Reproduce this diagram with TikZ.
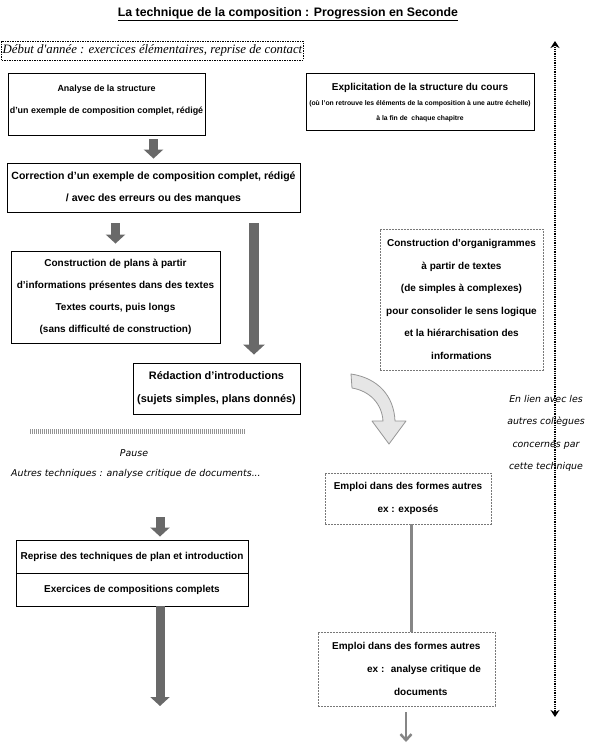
\documentclass[tikz,border=0pt]{standalone}
\usepackage{fontspec}
\setmainfont{Liberation Sans}
\newfontfamily\serifit{Liberation Serif}
\newfontfamily\verd{DejaVu Sans}
\usetikzlibrary{arrows.meta}
\definecolor{arrgray}{RGB}{105,105,105}
\definecolor{dgray}{RGB}{120,120,120}
\definecolor{lgfill}{RGB}{230,230,230}
\definecolor{lgline}{RGB}{150,150,150}
\begin{document}
\begin{tikzpicture}[x=1pt,y=-1pt,
  box/.style={draw=black, line width=0.9pt, align=center, inner sep=1pt,
    font=\fontsize{10}{22}\selectfont\bfseries},
  dbox/.style={draw=dgray, dash pattern=on 1.8pt off 1.2pt, line width=0.6pt,
    align=center, inner sep=1pt, font=\fontsize{10}{22.6}\selectfont\bfseries},
  blockarrow/.style={draw=arrgray, line width=9pt, -{Triangle[length=9pt,width=19pt]}},
  itnote/.style={font=\verd\itshape\fontsize{9.4}{22.4}\selectfont, align=center, inner sep=0pt}
]
\useasboundingbox (0,0) rectangle (597,748);
\fill[white] (0,0) rectangle (597,748);

% title
\node[font=\fontsize{12.3}{14}\selectfont\bfseries, inner sep=0pt] (title) at (288,14)
  {\underline{La technique de la composition : Progression en Seconde}};

% top dashed box
\node[draw=black, dash pattern=on 1.5pt off 1pt, line width=0.5pt,
  font=\serifit\itshape\fontsize{12.8}{14}\selectfont, minimum width=299pt,
  minimum height=19pt, inner sep=1pt] (debut) at (152.5,50.5)
  {Début d'année : exercices élémentaires, reprise de contact};

% vertical dotted double arrow
\coordinate (vtop) at (555,41);
\coordinate (vbot) at (555,717);
\draw[line width=2.6pt, dash pattern=on 1pt off 0.8pt,
  {Stealth[length=7pt,width=9pt]}-{Stealth[length=7pt,width=9pt]}] (vtop) -- (vbot);

% boxes
\node[box, font=\fontsize{8.9}{22}\selectfont\bfseries, minimum width=197pt, minimum height=62pt] (analyse) at (106.5,104)
  {Analyse de la structure\\d'un exemple de composition complet, rédigé\rule[-9pt]{0pt}{9pt}};

\node[box, minimum width=228pt, minimum height=57pt] (expl) at (420,101.5) {};
\node[font=\fontsize{10}{12}\selectfont\bfseries, inner sep=0pt] (expl1) at (420,88)
  {Explicitation de la structure du cours};
\node[font=\fontsize{6.8}{15}\selectfont\bfseries, inner sep=0pt, align=center] (expl2) at (420,111.5)
  {(où l'on retrouve les éléments de la composition à une autre échelle)\\à la fin de~ chaque chapitre};

\node[box, font=\fontsize{10.5}{22}\selectfont\bfseries, minimum width=293pt, minimum height=49pt] (corr) at (153.5,187.5)
  {Correction d'un exemple de composition complet, rédigé\\/ avec des erreurs ou des manques};

\node[box, minimum width=209pt, minimum height=92pt] (plans) at (115.5,297)
  {Construction de plans à partir\\d'informations présentes dans des textes\\Textes courts, puis longs\\(sans difficulté de construction)};

\node[dbox, minimum width=163pt, minimum height=141pt] (organi) at (461.5,299.5)
  {Construction d'organigrammes\\à partir de textes\\(de simples à complexes)\\pour consolider le sens logique\\et la hiérarchisation des\\informations};

\node[box, font=\fontsize{10.9}{23}\selectfont\bfseries, minimum width=167pt, minimum height=51pt] (redac) at (216.5,388.5)
  {Rédaction d'introductions\\(sujets simples, plans donnés)};

\node[dbox, minimum width=166pt, minimum height=51pt] (emp1) at (408,498.5)
  {Emploi dans des formes autres\\ex : exposés};

\node[dbox, align=left, minimum width=177pt, minimum height=74pt] (emp2) at (406.5,669)
  {Emploi dans des formes autres\\\hspace*{35pt}ex :~ analyse critique de\\\hspace*{62pt}documents};

\node[box, minimum width=232pt, minimum height=33pt] (rep1) at (132,556.5)
  {Reprise des techniques de plan et introduction};
\node[box, minimum width=232pt, minimum height=33pt] (rep2) at (132,589.5)
  {Exercices de compositions complets};

% texts
\node[itnote] (pause) at (134,453) {Pause};
\node[itnote, anchor=west] (autres) at (11,474) {Autres techniques : analyse critique de documents...};
\node[itnote] (lien) at (546,433.5) {En lien avec les\\autres collègues\\concernés par\\cette technique};

% hatched bar
\draw[dgray!80, line width=5pt, dash pattern=on 1pt off 1pt] (30,431) -- (245,431);

% block arrows
\draw[blockarrow, shorten <=4pt, shorten >=4pt] (analyse.south -| corr.north) -- (corr.north);
\draw[blockarrow, shorten <=11pt, shorten >=7pt] (corr.south -| plans.north) -- (plans.north);
\coordinate (a3x) at (254,0);
\draw[blockarrow, line width=10pt, -{Triangle[length=10pt,width=21pt]}, shorten <=11pt, shorten >=8pt]
  (corr.south -| a3x) -- (redac.north -| a3x);
\coordinate (a4s) at (160,517);
\draw[blockarrow, shorten >=3pt] (a4s) -- (rep1.north -| a4s);
\coordinate (a5e) at (160,706);
\draw[blockarrow] (rep2.south -| a5e) -- (a5e);

% gray connector between emploi boxes
\coordinate (lx) at (411,0);
\draw[dgray!90, line width=3pt] (emp1.south -| lx) -- (emp2.north -| lx);

% thin arrow at bottom
\coordinate (tae) at (406,742);
\draw[dgray!90, line width=2.5pt, -{Straight Barb[length=6pt,width=11pt]}, shorten <=6pt]
  (emp2.south -| tae) -- (tae);

% curved arrow
\draw[lgline, fill=lgfill, line width=0.8pt, line join=round]
  (351,374) .. controls (378,378) and (394,396) .. (395,421) -- (406,421) -- (389,444)
  -- (372,421) -- (383,421) .. controls (382,404) and (370,391) .. (352,388) -- cycle;
\end{tikzpicture}
\end{document}
